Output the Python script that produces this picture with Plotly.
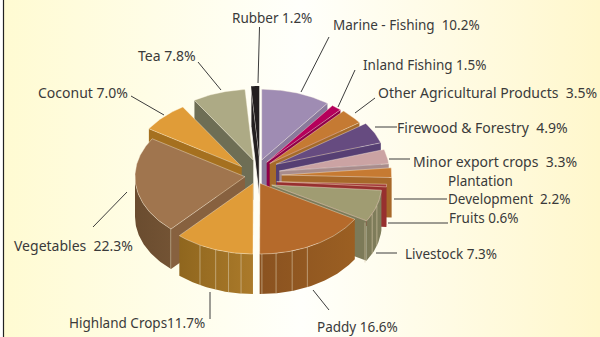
import math
import plotly.graph_objects as go

# Share of agricultural sector output, clockwise from twelve o'clock
categories = ["Marine", "Inland Fishing", "Other Agricultural", "Firewood", "Minor export",
              "Plantation", "Fruits", "Livestock", "Paddy", "Highland", "Vegetables",
              "Coconut", "Tea", "Rubber"]
shares = [10.2, 1.5, 3.5, 4.9, 3.3, 2.2, 0.6, 7.3, 16.6, 11.7, 22.3, 7.0, 7.8, 1.2]
label_prefix = ["Marine - Fishing\u00a0\u00a0", "Inland Fishing ", "Other Agricultural Products\u00a0\u00a0",
                "Firewood & Forestry\u00a0\u00a0", "Minor export crops\u00a0\u00a0",
                "Development\u00a0\u00a0", "Fruits ", "Livestock ", "Paddy ",
                "Highland Crops", "Vegetables\u00a0\u00a0", "Coconut ", "Tea ", "Rubber "]

# Pie geometry in canvas pixels
RX, RY, DEPTH = 110.0, 70.7, 40.0
apex_x = [261.7, 266.7, 269.7, 276.0, 279.3, 281.7, 276.7, 271.7, 260.0, 253.3, 245.0, 241.7, 253.3, 259.3]
apex_y = [160.0, 162.3, 163.5, 164.3, 171.0, 175.0, 181.7, 185.0, 183.3, 183.3, 176.7, 166.7, 160.0, 156.7]
top_col = ["#9f8cb3", "#b5005b", "#c57a33", "#664b80", "#cba3a3", "#c67a32", "#a33a38",
           "#a09c72", "#b56a2b", "#e09c38", "#a0754e", "#e09c38", "#adaa85", "#231f20"]
face_col = ["#8a7a9c", "#8f0048", "#a56a2a", "#563f73", "#a88c8c", "#a7682a", "#97302f",
            "#7c7a58", "#95591f", "#9c6f22", "#87613f", "#a5701f", "#6e6e55", "#231f20"]
wall_left = ["#8a7a9c", "#8f0048", "#a56a2a", "#563f73", "#a88c8c", "#a7682a", "#97302f",
             "#7c7a58", "#8a5220", "#8f661e", "#6a4c2f", "#a5701f", "#6e6e55", "#231f20"]
wall_right = ["#8a7a9c", "#8f0048", "#a56a2a", "#563f73", "#a88c8c", "#a7682a", "#97302f",
              "#807e5c", "#9b5f22", "#ab7a2a", "#735334", "#a5701f", "#6e6e55", "#231f20"]
wall_ribs = {7: [107, 114, 122], 8: [154.5, 163, 171.6, 179], 9: [186.4, 193, 200, 209], 10: [222.5]}
paint_order = [0, 1, 2, 3, 4, 5, 6, 7, 12, 11, 10, 13, 9, 8]
RUBBER = categories.index("Rubber")

label_x = [332, 362, 377, 396, 412, 447, 448, 404, 316, 68, 13, 37, 137, 231]
label_y = [25, 65, 92, 127, 161, 199, 218, 254, 327, 323, 245, 92, 55, 18]
label_size = [13.5, 13.5, 14, 14, 14, 13.5, 13.5, 13.5, 13.5, 13.5, 14, 14, 14, 13.5]

leaders = [[(329, 37), (301, 92)], [(355, 70), (338, 107)], [(375, 98), (355, 113)],
           [(375, 127), (397, 127)], [(389, 159), (410, 159)], [(394, 199), (447, 199)],
           [(388, 223), (448, 223)], [(376, 253), (397, 253)], [(313, 290), (329, 310)],
           [(210, 292), (210, 319)], [(127, 192), (93, 227)], [(131, 96), (164, 115)],
           [(198, 62), (221, 90)], [(259.5, 27), (258, 83)]]

total = sum(shares)
spans, running = [], 0.0
for s in shares:
    spans.append((running, running + s / total * 360.0))
    running += s / total * 360.0


def rim(i, t):
    a = math.radians(t)
    return apex_x[i] + RX * math.sin(a), apex_y[i] - RY * math.cos(a)


def arc(i, t0, t1):
    n = max(2, int(abs(t1 - t0)) + 2)
    return [rim(i, t0 + (t1 - t0) * k / (n - 1)) for k in range(n)]


def poly(points, fill, line=None, width=0.0, gradient=None):
    xs = [p[0] for p in points] + [points[0][0]]
    ys = [p[1] for p in points] + [points[0][1]]
    kw = dict(x=xs, y=ys, mode="lines", fill="toself", hoverinfo="skip", showlegend=False,
              line=dict(color=line or fill, width=width))
    if gradient:
        kw["fillgradient"] = dict(type="horizontal", colorscale=[[0, gradient[0]], [1, gradient[1]]])
    else:
        kw["fillcolor"] = fill
    return go.Scatter(**kw)


fig = go.Figure()

# Page background: cream at both sides, fading to white in the middle
fig.add_trace(go.Scatter(
    x=[3, 600, 600, 3, 3], y=[0, 0, 337, 337, 0], mode="lines", fill="toself", hoverinfo="skip",
    showlegend=False, line=dict(width=0),
    fillgradient=dict(type="horizontal",
                      colorscale=[[0, "#fffbd2"], [0.5, "#fffffb"], [1, "#fff7cc"]])))

EDGE = "rgba(255,248,230,0.65)"
for i in paint_order:
    t0, t1 = spans[i]
    ax, ay = apex_x[i], apex_y[i]
    # radial face that looks towards the viewer
    t_face = t1 if t1 <= 180.5 else t0
    ex, ey = rim(i, t_face)
    face = [(ax, ay), (ex, ey), (ex, ey + DEPTH), (ax, ay + DEPTH)]
    if i == RUBBER:
        fig.add_trace(poly(face, face_col[i], line="#fffdf5", width=0.8))
    else:
        fig.add_trace(poly(face, face_col[i]))
    # curved outer wall on the front half only
    w0, w1 = max(t0, 90.0), min(t1, 270.0)
    if w1 > w0:
        up = arc(i, w0, w1)
        down = [(x, y + DEPTH) for x, y in reversed(up)]
        fig.add_trace(poly(up + down, wall_left[i], gradient=(wall_left[i], wall_right[i])))
        for t in wall_ribs.get(i, []):
            x, y = rim(i, t)
            fig.add_trace(go.Scatter(x=[x, x], y=[y, y + DEPTH], mode="lines", hoverinfo="skip",
                                     showlegend=False, line=dict(color="#d8c8a8", width=0.6)))
    # top face
    if i == RUBBER:
        fig.add_trace(poly([(ax, ay)] + arc(i, t0, t1), top_col[i]))
    else:
        fig.add_trace(poly([(ax, ay)] + arc(i, t0, t1), top_col[i], line=EDGE, width=0.6))

TEXT = "#3a3a3a"
annotations = [
    dict(x=label_x[i], y=label_y[i], xref="x", yref="y", text=f"{label_prefix[i]}{shares[i]}%",
         showarrow=False, xanchor="left", yanchor="middle", align="left",
         font=dict(family="Noto Sans", size=label_size[i], color=TEXT), borderpad=0)
    for i in range(len(shares))
]
# first line of the two-line Plantation label
annotations.append(dict(x=447, y=181, xref="x", yref="y", text="Plantation", showarrow=False,
                        xanchor="left", yanchor="middle",
                        font=dict(family="Noto Sans", size=13.5, color=TEXT), borderpad=0))
shapes = [dict(type="line", x0=a[0], y0=a[1], x1=b[0], y1=b[1], xref="x", yref="y",
               line=dict(color="#3c3c3c", width=1)) for a, b in leaders]
# dark rule down the left edge of the panel
shapes.append(dict(type="line", x0=3.5, x1=3.5, y0=0, y1=337, xref="x", yref="y",
                   line=dict(color="#222222", width=1.2)))

fig.update_layout(
    width=600, height=337, margin=dict(l=0, r=0, t=0, b=0),
    paper_bgcolor="#ffffff", plot_bgcolor="rgba(0,0,0,0)", showlegend=False,
    xaxis=dict(range=[0, 600], visible=False, fixedrange=True),
    yaxis=dict(range=[337, 0], visible=False, fixedrange=True),
    annotations=annotations, shapes=shapes,
)
fig.write_html("out.html", config={"displayModeBar": False})
